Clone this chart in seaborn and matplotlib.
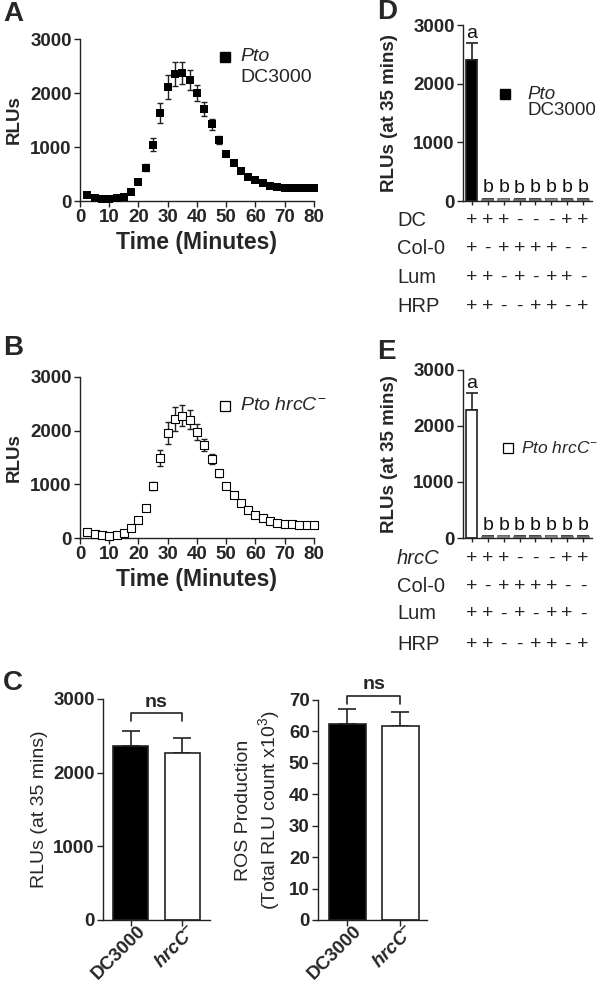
import numpy as np
import pandas as pd
import matplotlib
matplotlib.use('Agg')
import matplotlib.pyplot as plt
import matplotlib.transforms as mtransforms
import seaborn as sns

# ---- time course (panels A and B) ----
minutes = [2.5, 5, 7.5, 10, 12.5, 15, 17.5, 20, 22.5, 25, 27.5, 30, 32.5, 35, 37.5, 40,
           42.5, 45, 47.5, 50, 52.5, 55, 57.5, 60, 62.5, 65, 67.5, 70, 72.5, 75, 77.5, 80]
dc3000_rlu = [110, 62, 43, 31, 50, 80, 175, 350, 620, 1040, 1630, 2110, 2350, 2370, 2240, 2000,
              1710, 1420, 1130, 880, 700, 565, 453, 385, 330, 280, 260, 245, 240, 240, 240, 240]
dc3000_sem = [15, 10, 10, 10, 10, 15, 20, 30, 60, 120, 190, 230, 220, 210, 180, 150,
              130, 100, 80, 50, 30, 25, 20, 15, 15, 15, 10, 10, 10, 10, 10, 10]
hrcc_rlu = [112, 80, 56, 44, 62, 100, 194, 344, 562, 970, 1490, 1956, 2220, 2280, 2206, 1975,
            1725, 1470, 1206, 975, 794, 656, 525, 437, 375, 312, 287, 262, 256, 240, 250, 250]
hrcc_sem = [15, 10, 10, 10, 10, 15, 20, 30, 50, 80, 150, 200, 220, 200, 170, 150,
            110, 90, 70, 50, 30, 25, 20, 15, 15, 15, 10, 10, 10, 10, 10, 10]

# ---- controls at 35 min (panels D and E) ----
conditions = ['++++', '+-++', '++--', '-++-', '-+-+', '-+++', '+-+-', '+--+']
d_rows = ['DC', 'Col-0', 'Lum', 'HRP']
e_rows = ['hrcC', 'Col-0', 'Lum', 'HRP']
dc_ctrl = [2400, 25, 30, 20, 25, 30, 25, 25]
dc_ctrl_err = [290, 8, 8, 8, 8, 8, 8, 8]
hrcc_ctrl = [2280, 25, 30, 20, 25, 30, 25, 25]
hrcc_ctrl_err = [300, 8, 8, 8, 8, 8, 8, 8]
letters = ['a', 'b', 'b', 'b', 'b', 'b', 'b', 'b']

# ---- panel C ----
strains = ['DC3000', 'hrcC-']
rlu_35 = [2360, 2270]
rlu_35_err = [200, 200]
total_ros = [62.5, 61.8]
total_ros_err = [4.5, 4.5]

sns.set_theme(style='ticks')
plt.rcParams['font.family'] = ['Liberation Sans', 'DejaVu Sans']
plt.rcParams['mathtext.fontset'] = 'custom'
plt.rcParams['mathtext.rm'] = 'Liberation Sans'
plt.rcParams['mathtext.it'] = 'Liberation Sans:italic'
plt.rcParams['mathtext.bf'] = 'Liberation Sans:bold'
plt.rcParams['mathtext.bfit'] = 'Liberation Sans:bold:italic'

INK = '#222222'


def style_axes(ax, size=13.5):
    sns.despine(ax=ax)
    for side in ['left', 'bottom']:
        ax.spines[side].set_color(INK)
        ax.spines[side].set_linewidth(1.0)
    ax.tick_params(direction='out', length=4, width=1.0, color=INK,
                   labelsize=size, pad=2)
    for lab in ax.get_yticklabels() + ax.get_xticklabels():
        lab.set_fontweight('bold')
    ax.set_facecolor('white')


def plot_time_course(ax, rlu, sem, filled):
    df = pd.DataFrame({'Minutes': minutes, 'RLU': rlu})
    ax.errorbar(minutes, rlu, yerr=sem, fmt='none', ecolor=INK, elinewidth=1,
                capsize=2.5, capthick=1, zorder=2, clip_on=False)
    sns.scatterplot(data=df, x='Minutes', y='RLU', marker='s', s=26,
                    color='black' if filled else 'white', edgecolor='black',
                    linewidth=0 if filled else 0.8, ax=ax, zorder=3, clip_on=False)
    ax.set_xlim(0, 80)
    ax.set_ylim(0, 3000)
    ax.set_xticks(range(0, 81, 10))
    ax.set_yticks(range(0, 3001, 1000))
    ax.set_xlabel('Time (Minutes)', fontsize=16.5, fontweight='bold', labelpad=3)
    ax.set_ylabel('RLUs', fontsize=13.5, fontweight='bold', labelpad=5)
    style_axes(ax)


def plot_bars(ax, cats, vals, errs, colors, width, capsize):
    df = pd.DataFrame({'cond': cats, 'val': vals})
    sns.barplot(data=df, x='cond', y='val', hue='cond', palette=dict(zip(cats, colors)),
                legend=False, width=width, edgecolor=INK, linewidth=1.2, saturation=1,
                errorbar=None, ax=ax, zorder=2)
    ax.errorbar(range(len(vals)), vals, yerr=[np.zeros(len(vals)), errs], fmt='none',
                ecolor=INK, elinewidth=1.2, capsize=capsize, capthick=1.2, zorder=1)


def control_panel(ax, vals, errs, fill, row_names, row_y, first_italic):
    colors = [fill] + ['#dddddd'] * (len(vals) - 1)
    plot_bars(ax, conditions, vals, errs, colors, 0.7, 4)
    for patch in ax.patches[1:]:
        patch.set_edgecolor('#777777')
    ax.set_xlim(-0.56, 7.56)
    ax.set_ylim(0, 3000)
    ax.set_yticks(range(0, 3001, 1000))
    ax.set_ylabel('RLUs (at 35 mins)', fontsize=13.5, fontweight='bold', labelpad=11)
    ax.set_xlabel('')
    ax.set_xticks(range(len(conditions)))
    ax.set_xticklabels([])
    style_axes(ax)
    ax.tick_params(axis='x', length=3)
    for i, (v, e, t) in enumerate(zip(vals, errs, letters)):
        top = v + e + (170 if t == 'a' else 190)
        ax.text(i, top, t, ha='center', va='center', fontsize=14, color='#111')
    trans = mtransforms.blended_transform_factory(ax.transData, ax.transAxes)
    for k, (name, y) in enumerate(zip(row_names, row_y)):
        style = 'italic' if (k == 0 and first_italic) else 'normal'
        ax.text(-0.512, y, name, transform=ax.transAxes, ha='left', va='center',
                fontsize=14.5, fontstyle=style)
        for i, cond in enumerate(conditions):
            ax.text(i, y, cond[k], transform=trans, ha='center', va='center', fontsize=14)


fig = plt.figure(figsize=(6, 9.85), dpi=100)
fig.patch.set_facecolor('white')

# panel A
axA = fig.add_axes([0.1333, 0.7959, 0.39, 0.1645])
plot_time_course(axA, dc3000_rlu, dc3000_sem, True)
axA.plot([0.62], [0.889], marker='s', ms=7, color='black', transform=axA.transAxes, clip_on=False)
axA.text(0.684, 0.889, 'Pto', transform=axA.transAxes, fontsize=14, fontstyle='italic', va='center')
axA.text(0.684, 0.765, 'DC3000', transform=axA.transAxes, fontsize=14, va='center')

# panel B
axB = fig.add_axes([0.1333, 0.4538, 0.39, 0.1635])
plot_time_course(axB, hrcc_rlu, hrcc_sem, False)
axB.plot([0.62], [0.82], marker='s', ms=7, mfc='white', mec='black', mew=0.9,
         transform=axB.transAxes, clip_on=False)
axB.text(0.684, 0.82, r'$\it{Pto\ hrcC}^{-}$', transform=axB.transAxes, fontsize=14, va='center')

# panel D
axD = fig.add_axes([0.7717, 0.7959, 0.215, 0.1787])
control_panel(axD, dc_ctrl, dc_ctrl_err, 'black', d_rows, [-0.108, -0.267, -0.432, -0.597], False)
axD.plot([0.326], [0.608], marker='s', ms=7, color='black', transform=axD.transAxes, clip_on=False)
axD.text(0.496, 0.608, 'Pto', transform=axD.transAxes, fontsize=13.5, fontstyle='italic', va='center')
axD.text(0.496, 0.517, 'DC3000', transform=axD.transAxes, fontsize=13.5, va='center')

# panel E
axE = fig.add_axes([0.7717, 0.4538, 0.215, 0.1706])
control_panel(axE, hrcc_ctrl, hrcc_ctrl_err, 'white', e_rows, [-0.119, -0.286, -0.452, -0.631], True)
axE.plot([0.349], [0.536], marker='s', ms=7, mfc='white', mec='black', mew=0.9,
         transform=axE.transAxes, clip_on=False)
axE.text(0.452, 0.536, r'$\it{Pto\ hrcC}^{-}$', transform=axE.transAxes, fontsize=12.5, va='center')


# panel C
def strain_panel(ax, vals, errs, width, ylim, step, ylabel, labelpad, bracket_gap, leg):
    plot_bars(ax, strains, vals, errs, ['black', 'white'], width, 6.5)
    ax.set_ylim(0, ylim)
    ax.set_yticks(np.arange(0, ylim + 1, step))
    ax.set_ylabel(ylabel, fontsize=14, labelpad=labelpad)
    ax.set_xlabel('')
    ax.set_xticks([0, 1])
    ax.set_xticklabels(['DC3000', r'$\mathbfit{hrcC}^{\mathbf{-}}$'], rotation=45,
                       ha='right', rotation_mode='anchor')
    style_axes(ax, 13.5)
    shift = mtransforms.ScaledTranslation(6 / 100, 6 / 100, ax.figure.dpi_scale_trans)
    for lab in ax.get_xticklabels():
        lab.set_transform(lab.get_transform() + shift)
    top = max(v + e for v, e in zip(vals, errs)) + bracket_gap
    ax.plot([0, 0, 1, 1], [top - leg, top, top, top - leg], color=INK, lw=1.2, clip_on=False)
    ax.text(0.5, top + leg * 0.3, 'ns', ha='center', va='bottom', fontsize=14,
            fontweight='bold', clip_on=False)


axC1 = fig.add_axes([0.1717, 0.066, 0.1783, 0.2244])
strain_panel(axC1, rlu_35, rlu_35_err, 0.67, 3000, 1000, 'RLUs (at 35 mins)', 4, 250, 110)
axC1.set_xlim(-0.53, 1.53)

axC2 = fig.add_axes([0.53, 0.066, 0.1817, 0.2234])
strain_panel(axC2, total_ros, total_ros_err, 0.69, 70, 10,
             'ROS Production\n(Total RLU count x10$^{3}$)', 5, 4.4, 2.8)
axC2.set_xlim(-0.55, 1.5)

# panel letters
for letter, x, y in [('A', 0.005, 0.986), ('B', 0.005, 0.647), ('C', 0.005, 0.307),
                     ('D', 0.628, 0.988), ('E', 0.628, 0.643)]:
    fig.text(x, y, letter, fontsize=20, fontweight='bold', va='center', ha='left')

fig.savefig('out.png', dpi=100, facecolor='white')
